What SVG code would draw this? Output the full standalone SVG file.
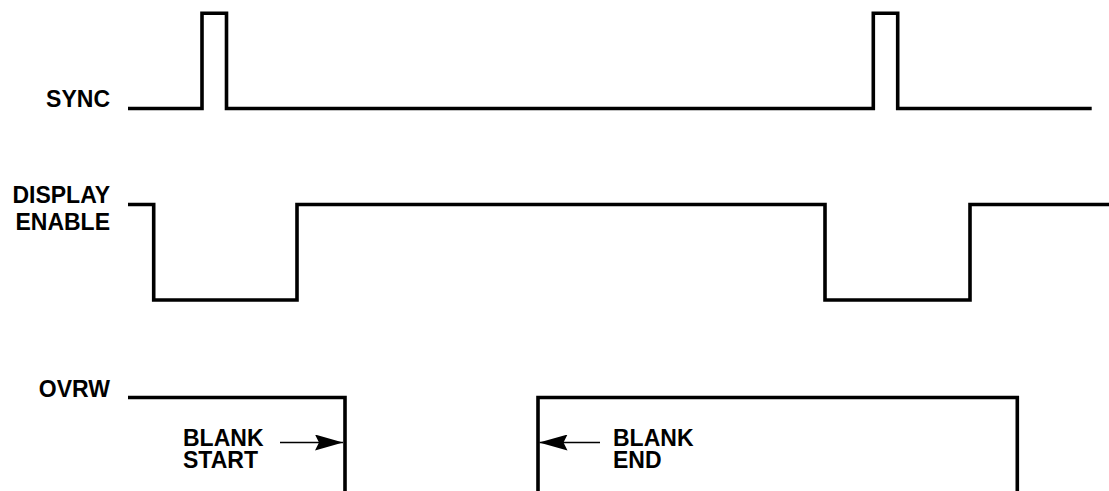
<svg xmlns="http://www.w3.org/2000/svg" width="1109" height="491" viewBox="0 0 1109 491">
<style>
.lbl{font-family:"Liberation Sans",Arial,sans-serif;font-weight:bold;font-size:23px;fill:#000}
.r{text-anchor:end}
.sig{fill:none;stroke:#000;stroke-width:3.6;stroke-linejoin:miter;stroke-linecap:butt}
.arr{fill:none;stroke:#000;stroke-width:1.5}
</style>
<defs>
<marker id="ah" viewBox="0 0 28 16" refX="28" refY="8" markerWidth="28" markerHeight="16" markerUnits="userSpaceOnUse" orient="auto">
<path d="M0,0 L28,8 L0,16 L4,8 Z" fill="#000"/>
</marker>
</defs>
<g id="sync">
<text class="lbl r" x="110" y="107">SYNC</text>
</g>
<g id="display-enable">
<text class="lbl r" x="110" y="203">DISPLAY</text>
<text class="lbl r" x="110" y="230">ENABLE</text>
</g>
<g id="ovrw">
<text class="lbl r" x="110" y="397">OVRW</text>
</g>
<g id="blank-start">
<text class="lbl" x="183" y="446">BLANK</text>
<text class="lbl" x="183" y="468">START</text>
</g>
<g id="blank-end">
<text class="lbl" x="613" y="446">BLANK</text>
<text class="lbl" x="613" y="468">END</text>
</g>
<g id="connectors">
<path class="sig" d="M128,108.5 H202 V13.3 H226.5 V108.5 H873.3 V13.3 H897.7 V108.5 H1091.7"/>
<path class="sig" d="M128,204.5 H153.7 V300 H297 V204.5 H825 V300 H970 V204.5 H1109"/>
<path class="sig" d="M128,397.5 H345 V491"/>
<path class="sig" d="M538,491 V397.5 H1017.3 V491"/>
<line class="arr" x1="280" y1="442.5" x2="343" y2="442.5" marker-end="url(#ah)"/>
<line class="arr" x1="600" y1="442.5" x2="539.5" y2="442.5" marker-end="url(#ah)"/>
</g>
</svg>
